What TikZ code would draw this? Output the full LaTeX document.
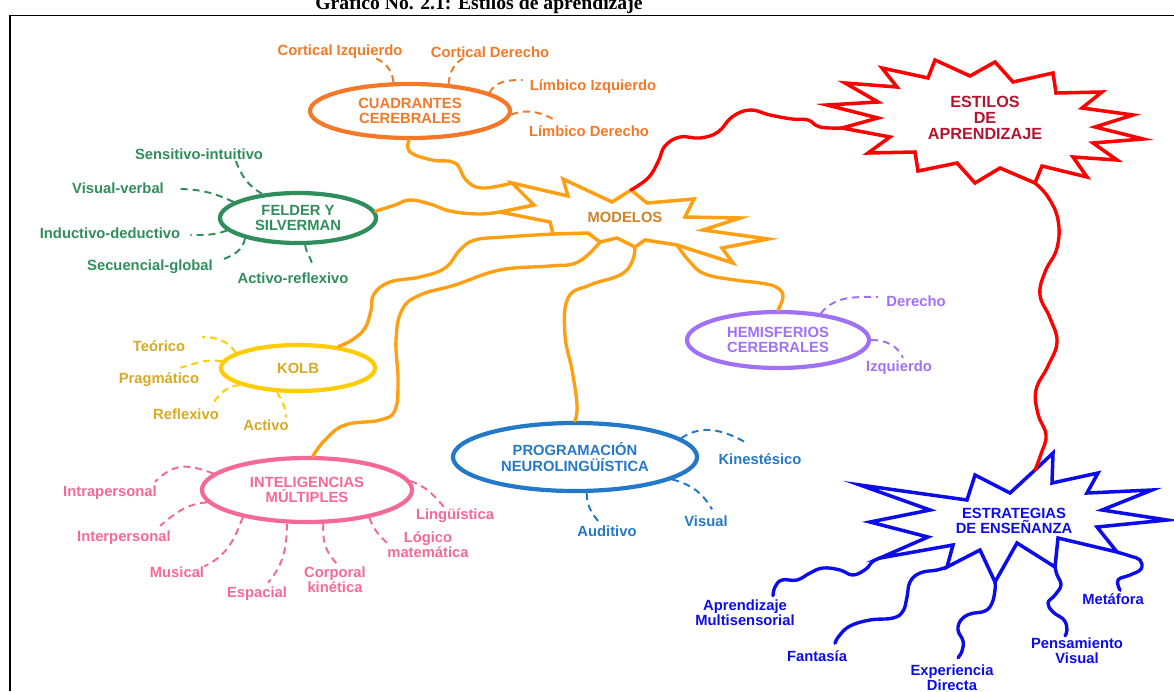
\documentclass[tikz,border=0pt]{standalone}
\usepackage{fontspec}
\setmainfont{Liberation Serif}
\setsansfont{Liberation Sans}
\usetikzlibrary{shapes.geometric,calc}

\definecolor{cuadOr}{RGB}{245,120,40}
\definecolor{felGr}{RGB}{48,142,92}
\definecolor{kolbYe}{RGB}{255,204,0}
\definecolor{kolbTx}{RGB}{214,170,36}
\definecolor{intPk}{RGB}{245,105,150}
\definecolor{pnlBl}{RGB}{36,120,200}
\definecolor{hemPu}{RGB}{160,112,245}
\definecolor{modOr}{RGB}{255,160,20}
\definecolor{modTx}{RGB}{204,132,44}
\definecolor{estRd}{RGB}{255,0,0}
\definecolor{estTx}{RGB}{180,20,45}
\definecolor{ensBl}{RGB}{12,12,235}

\newcommand{\lbl}{\sffamily\bfseries\fontsize{10.5}{10.8}\selectfont}

\begin{document}
\begin{tikzpicture}[x=0.025cm,y=-0.025cm,
  ellip/.style={ellipse, draw, line width=3pt, inner sep=0pt, align=center, font=\lbl},
  lab/.style={inner sep=0pt, align=center, font=\lbl},
  dsh/.style={line width=1.4pt, dash pattern=on 5pt off 3.5pt},
  wave/.style={line width=2.4pt, line cap=round, line join=round},
  burst/.style={line width=2.5pt, line join=miter}]
\useasboundingbox (0,0) rectangle (1174,691);

\node[anchor=base, font=\bfseries\fontsize{14}{16}\selectfont] (titulo) at (479,9) {Gráfico No. 2.1: Estilos de aprendizaje};
\draw[line width=1.4pt] (10,691) -- (10,15.5) -- (1174,15.5);

% Cuadrantes cerebrales
\begin{scope}[cuadOr]
\node[ellip, minimum width=5cm, minimum height=1.35cm] (cuad) at (410,111) {CUADRANTES\\CEREBRALES};
\node[lab] (cizq) at (340,52) {Cortical Izquierdo};
\node[lab] (cder) at (490,52) {Cortical Derecho};
\node[lab] (lizq) at (593,87) {Límbico Izquierdo};
\node[lab] (lder) at (589,131) {Límbico Derecho};
\draw[dsh] (cuad.120) to[out=95,in=-20] ($(cizq.south)+(33,-2)$);
\draw[dsh] (cuad.35) to[out=85,in=200] ($(cder.south)+(-23,-1)$);
\draw[dsh] (cuad.13) to[out=60,in=180] ($(lizq.west)+(-7,-7)$);
\draw[dsh] (cuad.-2) to[out=20,in=150] ($(lder.north)+(-32,-4)$);
\end{scope}

% Felder y Silverman
\begin{scope}[felGr]
\node[ellip, minimum width=3.9cm, minimum height=1.25cm] (felder) at (298,218) {FELDER Y\\SILVERMAN};
\node[lab] (sens) at (199,154) {Sensitivo-intuitivo};
\node[lab] (visv) at (118,188) {Visual-verbal};
\node[lab] (indu) at (110,233) {Inductivo-deductivo};
\node[lab] (secu) at (150,267) {Secuencial-global};
\node[lab] (actr) at (293,278) {Activo-reflexivo};
\draw[dsh] (felder.146) to[out=150,in=-70] ($(sens.south)+(36,-1)$);
\draw[dsh] (felder.166) to[out=155,in=0] ($(visv.east)+(12,1)$);
\draw[dsh] (felder.190) to[out=200,in=0] ($(indu.east)+(10,2)$);
\draw[dsh] (felder.201) to[out=-100,in=20] ($(secu.east)+(8,-7)$);
\draw[dsh] (felder.-75) to[out=-85,in=90] ($(actr.north)+(19,-6)$);
\end{scope}

% Kolb
\begin{scope}[kolbTx]
\node[ellip, draw=kolbYe, minimum width=3.85cm, minimum height=1.15cm] (kolb) at (298,368) {KOLB};
\node[lab] (teor) at (159,346) {Teórico};
\node[lab] (prag) at (159,380) {Pragmático};
\node[lab] (refl) at (186,414) {Reflexivo};
\node[lab] (acti) at (266,425) {Activo};
\draw[dsh, kolbYe] (kolb.166) to[out=125,in=0] ($(teor.east)+(17,-9)$);
\draw[dsh, kolbYe] (kolb.175) to[out=170,in=15] ($(prag.north east)+(-19,-5)$);
\draw[dsh, kolbYe] (kolb.196) to[out=190,in=65] ($(refl.north)+(26,-2)$);
\draw[dsh, kolbYe] (kolb.229) to[out=-60,in=90] ($(acti.north east)+(-3,-2)$);
\end{scope}

% Inteligencias multiples
\begin{scope}[intPk]
\node[ellip, minimum width=5.25cm, minimum height=1.6cm] (intel) at (307,490) {INTELIGENCIAS\\MÚLTIPLES};
\node[lab] (intra) at (110,493) {Intrapersonal};
\node[lab] (inter) at (124,538) {Interpersonal};
\node[lab] (music) at (177,572) {Musical};
\node[lab] (espac) at (257,594) {Espacial};
\node[lab] (corpo) at (335,580) {Corporal\\kinética};
\node[lab] (logic) at (428,545) {Lógico\\matemática};
\node[lab] (lingu) at (455,516) {Lingüística};
\draw[dsh] (intel.170) to[out=160,in=45,looseness=1.2] ($(intra.north east)+(-2,-4)$);
\draw[dsh] (intel.187) to[out=185,in=40] ($(inter.north east)+(-11,-5)$);
\draw[dsh] (intel.203) to[out=-110,in=25] (music.north east);
\draw[dsh] (intel.-121) to[out=-90,in=50] ($(espac.north)+(11,-4)$);
\draw[dsh] (intel.-64) to[out=-95,in=135] ($(corpo.north)+(2,-3)$);
\draw[dsh] (intel.-24) to[out=-70,in=137] ($(logic.west)+(0,-2)$);
\draw[dsh] (intel.5) to[out=-20,in=130] ($(lingu.north west)+(28,-2)$);
\end{scope}

% Programacion neurolinguistica
\begin{scope}[pnlBl]
\node[ellip, minimum width=6.1cm, minimum height=1.7cm] (pnl) at (575,457) {PROGRAMACIÓN\\NEUROLINGÜÍSTICA};
\node[lab] (kine) at (760,459) {Kinestésico};
\node[lab] (visu) at (706,521) {Visual};
\node[lab] (audi) at (607,531) {Auditivo};
\draw[dsh] (pnl.10) to[out=35,in=150] ($(kine.north)+(-13,-10)$);
\draw[dsh] (pnl.-13) to[out=-15,in=120] ($(visu.north)+(6,-6)$);
\draw[dsh] (pnl.-72) to[out=-90,in=130] ($(audi.north)+(-7,-2)$);
\end{scope}

% Hemisferios cerebrales
\begin{scope}[hemPu]
\node[ellip, minimum width=4.55cm, minimum height=1.4cm] (hemis) at (778,340) {HEMISFERIOS\\CEREBRALES};
\node[lab] (hder) at (916,301) {Derecho};
\node[lab] (hizq) at (899,368) {Izquierdo};
\draw[dsh] (hemis.32) to[out=50,in=180] ($(hder.west)+(-8,-4)$);
\draw[dsh] (hemis.0) to[out=0,in=115] ($(hizq.north)+(4,-3)$);
\end{scope}

% Modelos
\draw[modOr, burst] (512,183) coordinate (mCuad) -- (568,196) -- (563,179) -- (612,202)
  -- (631,190) coordinate (mEst) -- (647,203) -- (694,199) -- (685,217) -- (740,218)
  -- (703,230) -- (768,239) -- (722,248) -- (733,263) -- (677,245) coordinate (mHem)
  -- (645,240) -- (635,247) coordinate (mPnl) -- (617,238) -- (600,242) coordinate (mInt)
  -- (588,233) -- (553,234) coordinate (mKolb) -- (550,222) -- (500,212) coordinate (mFel)
  -- (534,205) -- cycle;
\node[lab, modTx] (modelos) at (625,217) {MODELOS};

% Estilos de aprendizaje
\draw[estRd, burst] (827,105) -- (878,102) -- (845,83) -- (897,87) -- (882,68) -- (928,78)
  -- (935,60) -- (970,76) -- (995,62) -- (1013,82) -- (1053,73) -- (1056,93) -- (1102,92)
  -- (1082,108) -- (1133,115) -- (1095,127) -- (1143,139) -- (1093,143) -- (1117,160)
  -- (1073,157) -- (1087,177) -- (1042,166) -- (1035,183) coordinate (eBot) -- (1000,168)
  -- (975,183) -- (957,163) -- (918,171) -- (915,152) -- (868,153) -- (890,137)
  -- (842,128) coordinate (eLeft) -- (878,118) -- cycle;
\node[lab, estTx, font=\sffamily\bfseries\fontsize{11.5}{11.5}\selectfont] (estilos) at (985,118) {ESTILOS\\DE\\APRENDIZAJE};

% Estrategias de ensenanza
\draw[ensBl, burst] (860,485) -- (967,500) -- (975,475) -- (1010,493) -- (1035,470) coordinate (eTop)
  -- (1053,453) -- (1052,483) -- (1098,473) -- (1087,493) -- (1152,490) -- (1102,510)
  -- (1167,520) -- (1097,527) -- (1117,552) coordinate (sMet) -- (1058,538)
  -- (1055,567) coordinate (sPen) -- (1017,543) -- (995,582) coordinate (sExp) -- (980,550)
  -- (947,567) coordinate (sFan) -- (953,545) -- (880,558) coordinate (sApr) -- (928,537)
  -- (870,522) -- (930,510) -- cycle;
\node[lab, ensBl] (estrat) at (1014,521) {ESTRATEGIAS\\DE ENSEÑANZA};

% enlaces de modelos
\begin{scope}[modOr]
\draw[wave] plot[smooth, tension=0.7] coordinates {(cuad.-92) (410,152) (432,160) (455,163) (466,180) (482,188) (mCuad)};
\draw[wave] plot[smooth, tension=0.7] coordinates {(felder.5) (395,205) (410,200) (430,204) (450,211) (478,214) (mFel)};
\draw[wave] plot[smooth, tension=0.7] coordinates {(kolb.28) (352,340) (365,328) (371,310) (374,294) (390,282) (420,277) (445,268) (460,250) (475,240) (505,237) (mKolb)};
\draw[wave] plot[smooth, tension=0.7] coordinates {(intel.80) (325,440) (345,425) (380,420) (395,410) (398,380) (396,340) (402,310) (420,295) (455,285) (500,270) (550,266) (578,262) (mInt)};
\draw[wave] plot[smooth, tension=0.7] coordinates {(pnl.90) (577,405) (572,370) (565,335) (568,298) (590,285) (620,275) (632,262) (mPnl)};
\draw[wave] plot[smooth, tension=0.7] coordinates {(hemis.90) (783,296) (776,287) (760,283) (735,280) (705,274) (690,262) (mHem)};
\end{scope}

% enlaces rojos
\begin{scope}[estRd]
\draw[wave] plot[smooth, tension=0.7] coordinates {(mEst) (648,178) (658,162) (665,146) (680,137) (700,138) (718,132) (732,117) (750,110) (770,115) (792,119) (808,120) (820,127) (eLeft)};
\draw[wave] plot[smooth, tension=0.7] coordinates {(eBot) (1048,197) (1058,220) (1057,248) (1045,272) (1040,295) (1050,318) (1057,342) (1048,366) (1036,390) (1038,414) (1046,435) (1041,454) (eTop)};
\end{scope}

% estrategias
\begin{scope}[ensBl]
\node[lab] (apre) at (745,613) {Aprendizaje\\Multisensorial};
\node[lab] (fant) at (817,656) {Fantasía};
\node[lab] (expe) at (952,678) {Experiencia\\Directa};
\node[lab] (pens) at (1077,651) {Pensamiento\\Visual};
\node[lab] (meta) at (1113,599) {Metáfora};
\coordinate (aprEnd) at ($(apre.north)+(28,-4)$);
\coordinate (fanEnd) at ($(fant.north)+(18,-7)$);
\coordinate (expEnd) at ($(expe.north)+(6,-7)$);
\coordinate (penEnd) at ($(pens.north)+(-12,-2)$);
\coordinate (metEnd) at ($(meta.north)+(7,-3)$);
\draw[wave] plot[smooth, tension=0.7] coordinates {(sApr) (872,562) (866,569) (853,575) (840,570) (823,568) (810,573) (797,580) (782,580) (775,587) (aprEnd)};
\draw[wave] plot[smooth, tension=0.7] coordinates {(sFan) (937,570) (920,573) (910,582) (907,597) (903,611) (893,618) (870,620) (850,626) (839,636) (fanEnd)};
\draw[wave] plot[smooth, tension=0.7] coordinates {(sExp) (995,590) (992,603) (985,611) (970,614) (961,620) (958,630) (963,641) (962,651) (expEnd)};
\draw[wave] plot[smooth, tension=0.7] coordinates {(sPen) (1057,575) (1061,585) (1055,595) (1048,603) (1053,612) (1064,620) (1067,630) (penEnd)};
\draw[wave] plot[smooth, tension=0.7] coordinates {(sMet) (1130,556) (1140,560) (1141,569) (1130,575) (1118,580) (metEnd)};
\end{scope}

\end{tikzpicture}
\end{document}
